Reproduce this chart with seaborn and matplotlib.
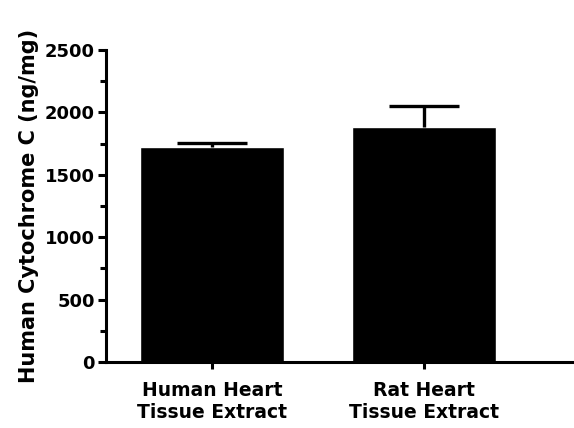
import numpy as np
import pandas as pd
import matplotlib
matplotlib.use("Agg")
import matplotlib.pyplot as plt
import seaborn as sns
from matplotlib.ticker import MultipleLocator

# values
groups = ["Human Heart\nTissue Extract", "Rat Heart\nTissue Extract"]
means = [1725, 1880]
sem = [27, 175]

sns.set_style("ticks")
plt.rcParams['font.family'] = ['DejaVu Sans']
plt.rcParams['font.weight'] = 'bold'
plt.rcParams['text.color'] = 'black'
plt.rcParams['axes.labelcolor'] = 'black'
plt.rcParams['xtick.color'] = 'black'
plt.rcParams['ytick.color'] = 'black'

df = pd.DataFrame({"group": groups, "value": means})

fig = plt.figure(figsize=(5.74, 4.28), dpi=100)
ax = fig.add_axes([0.1847, 0.1542, 0.812, 0.729])

sns.barplot(data=df, x="group", y="value", color="black", width=0.68,
            errorbar=None, saturation=1, ax=ax)

# upper-only error bars
xpos = np.arange(len(means))
tops = np.array(means) + np.array(sem)
ax.vlines(xpos, means, tops, color="black", linewidth=2.4)
ax.hlines(tops, xpos - 0.165, xpos + 0.165, color="black", linewidth=2.4)

ax.set_xlim(-0.5, 1.7)
ax.set_ylim(0, 2500)
ax.yaxis.set_major_locator(MultipleLocator(500))
ax.yaxis.set_minor_locator(MultipleLocator(250))

sns.despine(ax=ax)
for s in ["left", "bottom"]:
    ax.spines[s].set_linewidth(2.2)
    ax.spines[s].set_color("black")

ax.tick_params(axis="y", which="major", length=6, width=2.2, labelsize=13, pad=2)
ax.tick_params(axis="y", which="minor", length=4, width=2.2)
ax.tick_params(axis="x", length=5, width=2.2, labelsize=13.5, pad=9)
for lbl in ax.get_xticklabels() + ax.get_yticklabels():
    lbl.set_fontweight("bold")

ax.set_xlabel("")
ax.set_ylabel("Human Cytochrome C (ng/mg)", fontsize=15, fontweight="bold", labelpad=4)

fig.savefig("out.png", dpi=100)
